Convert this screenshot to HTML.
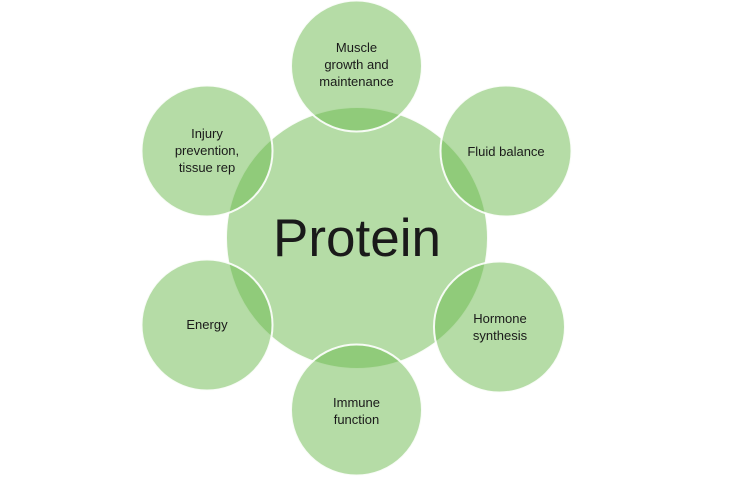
<!DOCTYPE html>
<html><head><meta charset="utf-8"><style>
html,body{margin:0;padding:0;background:#fff;}
svg{display:block;}
text{font-family:"Liberation Sans",sans-serif;fill:#1a1a1a;text-anchor:middle;}
</style></head><body>
<svg width="736" height="479" viewBox="0 0 736 479">
<g fill="rgb(107,185,77)" fill-opacity="0.5" stroke="#fff" stroke-width="2" stroke-opacity="0.9">
<circle cx="357" cy="238" r="131"/>
<circle cx="356.5" cy="66" r="65.5"/>
<circle cx="506" cy="151" r="65.5"/>
<circle cx="499.5" cy="327" r="65.5"/>
<circle cx="356.5" cy="410" r="65.5"/>
<circle cx="207" cy="325" r="65.5"/>
<circle cx="207" cy="151" r="65.5"/>
</g>
<text x="357" y="256" font-size="53">Protein</text>
<g font-size="13">
<text x="356.5" y="52">Muscle</text>
<text x="356.5" y="69">growth and</text>
<text x="356.5" y="86">maintenance</text>
<text x="506" y="156">Fluid balance</text>
<text x="500" y="323">Hormone</text>
<text x="500" y="340">synthesis</text>
<text x="356.5" y="407">Immune</text>
<text x="356.5" y="424">function</text>
<text x="207" y="329">Energy</text>
<text x="207" y="138">Injury</text>
<text x="207" y="155">prevention,</text>
<text x="207" y="172">tissue rep</text>
</g>
</svg>
</body></html>
